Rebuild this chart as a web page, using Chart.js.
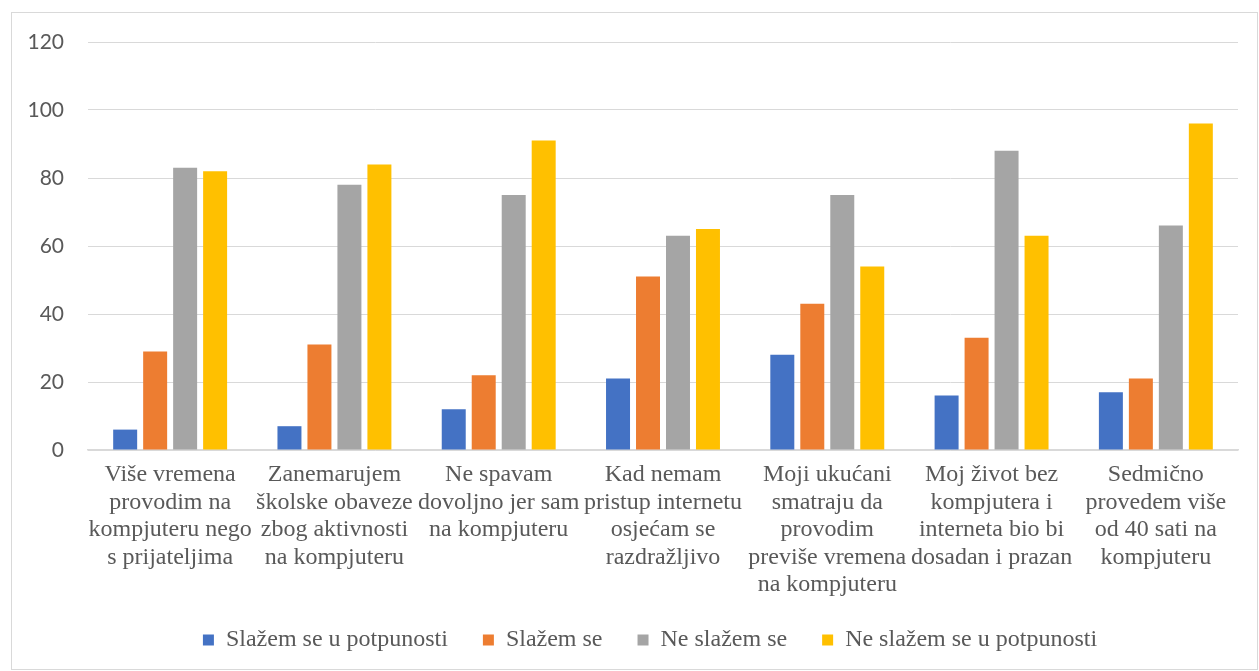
<!DOCTYPE html>
<html>
<head>
<meta charset="utf-8">
<script src="https://cdn.jsdelivr.net/npm/chart.js@4/dist/chart.umd.min.js"></script>
<style>
  html, body { margin: 0; padding: 0; background: #ffffff; }
  #okvir {
    position: absolute; left: 11px; top: 12px;
    width: 1245px; height: 656px;
    border: 1px solid #d9d9d9;
  }
  #grafikon { display: block; }
</style>
</head>
<body>
<div id="okvir"><canvas id="grafikon" width="1245" height="656"></canvas></div>
<script>
// Kategorije (tvrdnje iz upitnika)
const kategorije = [
    ['Više vremena', 'provodim na', 'kompjuteru nego', 's prijateljima'],
    ['Zanemarujem', 'školske obaveze', 'zbog aktivnosti', 'na kompjuteru'],
    ['Ne spavam', 'dovoljno jer sam', 'na kompjuteru'],
    ['Kad nemam', 'pristup internetu', 'osjećam se', 'razdražljivo'],
    ['Moji ukućani', 'smatraju da', 'provodim', 'previše vremena', 'na kompjuteru'],
    ['Moj život bez', 'kompjutera i', 'interneta bio bi', 'dosadan i prazan'],
    ['Sedmično', 'provedem više', 'od 40 sati na', 'kompjuteru']
];

// Broj odgovora po kategoriji
const slazemUPotpunosti = [6, 7, 12, 21, 28, 16, 17];
const slazem = [29, 31, 22, 51, 43, 33, 21];
const neSlazem = [83, 78, 75, 63, 75, 88, 66];
const neSlazemUPotpunosti = [82, 84, 91, 65, 54, 63, 96];

const naziviSerija = ['Slažem se u potpunosti', 'Slažem se', 'Ne slažem se', 'Ne slažem se u potpunosti'];
const boje = ['#4472C4', '#ED7D31', '#A5A5A5', '#FFC000'];

// Podjela osi Y
const yMin = 0;
const yMax = 120;
const yKorak = 20;

const podaci = [slazemUPotpunosti, slazem, neSlazem, neSlazemUPotpunosti];

// dugi natpisi (5 redova) idu ispod okvira ose, pa ne rezati tekst;
// legendu malo pomjeriti udesno kao u Excelu
const podesavanja = {
    id: 'podesavanja',
    afterLayout(chart) {
        chart.scales.x._computeLabelArea = () => undefined;
        chart.legend.left += 25;
        chart.legend.right += 25;
    }
};

const ctx = document.getElementById('grafikon').getContext('2d');
new Chart(ctx, {
    type: 'bar',
    data: {
        labels: kategorije,
        datasets: podaci.map((niz, i) => ({
            label: naziviSerija[i],
            data: niz,
            backgroundColor: boje[i],
            borderWidth: 0,
            barPercentage: 0.8,
            categoryPercentage: 0.73
        }))
    },
    options: {
        responsive: false,
        animation: false,
        layout: {
            padding: { top: 29, right: 19, bottom: 7, left: 0 }
        },
        scales: {
            x: {
                grid: { display: false, drawTicks: false },
                border: { display: true, color: '#d9d9d9', width: 1.5 },
                ticks: {
                    color: '#595959',
                    font: { family: '"Liberation Serif", "Times New Roman", serif', size: 24, lineHeight: 1.15 },
                    padding: 11,
                    maxRotation: 0,
                    autoSkip: false
                },
                afterFit: (skala) => { skala.height = 143; }
            },
            y: {
                min: yMin,
                max: yMax,
                grid: { color: '#d9d9d9', lineWidth: 1, drawTicks: false },
                border: { display: false },
                ticks: {
                    stepSize: yKorak,
                    color: '#595959',
                    font: { family: 'Lato, "Open Sans", sans-serif', size: 21 },
                    padding: 24
                },
                afterFit: (skala) => {
                    skala.width = 76;
                    skala.paddingTop = 0;
                    skala.paddingBottom = 0;
                }
            }
        },
        plugins: {
            legend: {
                position: 'bottom',
                labels: {
                    boxWidth: 11,
                    boxHeight: 11,
                    padding: 35,
                    color: '#595959',
                    font: { family: '"Liberation Serif", "Times New Roman", serif', size: 24 }
                }
            },
            tooltip: { enabled: false }
        }
    },
    plugins: [podesavanja]
});
</script>
</body>
</html>
